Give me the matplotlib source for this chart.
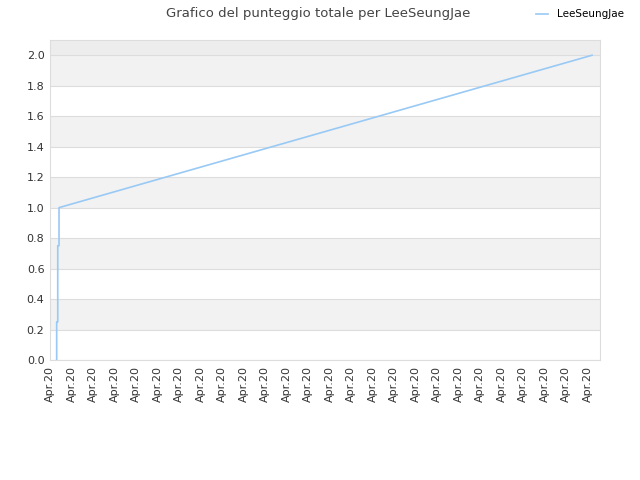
import matplotlib
matplotlib.use("Agg")
import matplotlib.pyplot as plt

# days since start of the period, all labelled "Apr.20"
days = [0.31, 0.31, 0.36, 0.36, 0.42, 0.42, 25.21]
score = [0.0, 0.25, 0.25, 0.75, 0.75, 1.0, 2.0]
tick_days = list(range(26))
tick_labels = ["Apr.20"] * len(tick_days)
player = "LeeSeungJae"

plt.rcParams.update({
    "font.family": "DejaVu Sans",
    "font.size": 8,
})

fig = plt.figure(figsize=(6.4, 4.8), dpi=100)
ax = fig.add_axes([50 / 640, 1 - 360 / 480, 550 / 640, 320 / 480])

# alternating horizontal bands
for i in range(10):
    lo = i * 0.2
    if i % 2 == 1:
        ax.axhspan(lo, lo + 0.2, color="#f2f2f2", zorder=0, lw=0)
ax.axhspan(2.0, 2.1, color="#ededed", zorder=0, lw=0)

ax.plot(days, score, color="#99c9f5", lw=1.2, label=player, zorder=3)

ax.set_xlim(0, 25.58)
ax.set_ylim(0, 2.1)
ax.set_yticks([i * 0.2 for i in range(11)])
ax.set_yticklabels([f"{i * 0.2:.1f}" for i in range(11)])
ax.set_xticks(tick_days)
ax.set_xticklabels(tick_labels, rotation=90)
ax.grid(axis="y", color="#dddddd", lw=0.8, zorder=1)
ax.set_axisbelow(True)
ax.tick_params(colors="#333333", length=0, labelsize=8, pad=4)
for s in ax.spines.values():
    s.set_color("#dddddd")

fig.suptitle("Grafico del punteggio totale per LeeSeungJae", x=0.497, y=0.985,
             fontsize=9.5, color="#444444")
fig.legend(loc="upper right", bbox_to_anchor=(0.99, 1.0), frameon=False,
           fontsize=7.5, handlelength=1.1, handletextpad=0.9)

fig.savefig("out.png")
